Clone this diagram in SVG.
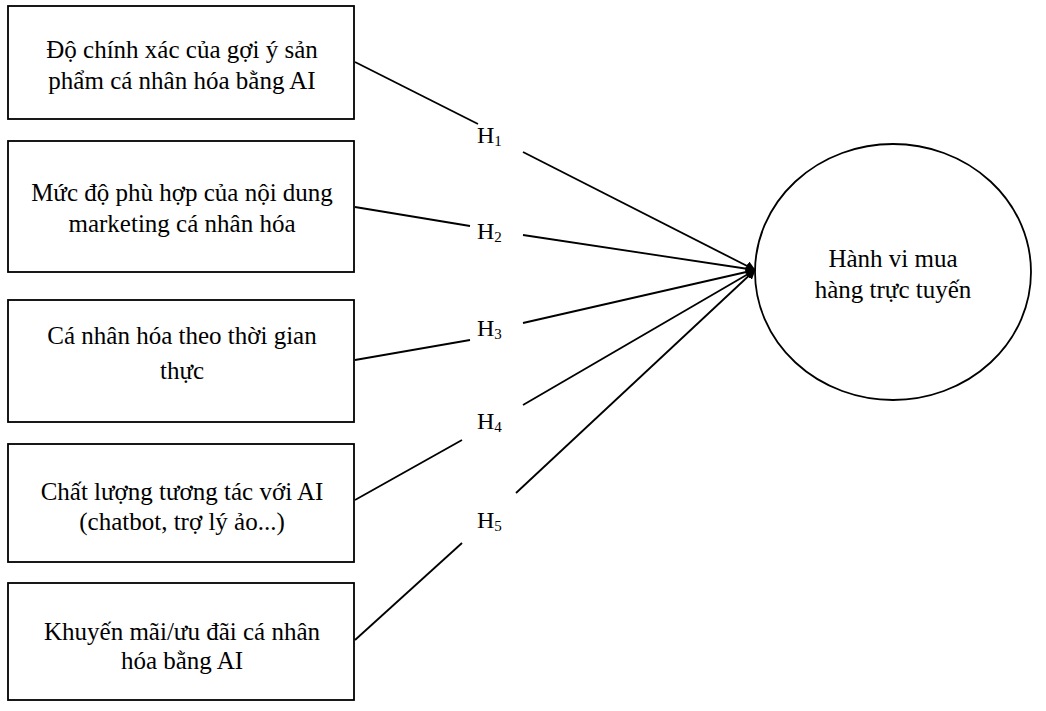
<svg xmlns="http://www.w3.org/2000/svg" width="1046" height="711" viewBox="0 0 1046 711">
<style>
.b{fill:#fff;stroke:#000;stroke-width:1.8}
.t{font-family:"Liberation Serif",serif;font-size:25px;fill:#000;text-anchor:middle}
.h{font-family:"Liberation Serif",serif;font-size:24px;fill:#000}
.s{font-size:15px}
.c{stroke:#000;stroke-width:1.8;fill:none}
</style>
<defs><marker id="a" markerWidth="10" markerHeight="10" refX="9" refY="5" orient="auto" markerUnits="userSpaceOnUse"><path d="M0,0 L10,5 L0,10 z"/></marker></defs>
<rect width="1046" height="711" fill="#fff"/>
<g id="n1"><rect class="b" x="8" y="6" width="346" height="113"/><text class="t" x="182" y="58">Độ chính xác của gợi ý sản</text><text class="t" x="182" y="89">phẩm cá nhân hóa bằng AI</text></g>
<g id="n2"><rect class="b" x="8" y="141" width="346" height="131"/><text class="t" x="182" y="201">Mức độ phù hợp của nội dung</text><text class="t" x="182" y="232">marketing cá nhân hóa</text></g>
<g id="n3"><rect class="b" x="8" y="300" width="346" height="122"/><text class="t" x="182" y="344">Cá nhân hóa theo thời gian</text><text class="t" x="182" y="379">thực</text></g>
<g id="n4"><rect class="b" x="8" y="444" width="346" height="118"/><text class="t" x="182" y="500">Chất lượng tương tác với AI</text><text class="t" x="182" y="530">(chatbot, trợ lý ảo...)</text></g>
<g id="n5"><rect class="b" x="8" y="583" width="346" height="117"/><text class="t" x="182" y="640">Khuyến mãi/ưu đãi cá nhân</text><text class="t" x="182" y="669">hóa bằng AI</text></g>
<g id="n6"><ellipse class="b" cx="893" cy="272" rx="138" ry="128"/><text class="t" x="893" y="267">Hành vi mua</text><text class="t" x="893" y="298">hàng trực tuyến</text></g>
<g id="labels">
<text class="h" x="477" y="143">H<tspan class="s" dy="3">1</tspan></text>
<text class="h" x="477" y="239">H<tspan class="s" dy="3">2</tspan></text>
<text class="h" x="477" y="336">H<tspan class="s" dy="3">3</tspan></text>
<text class="h" x="477" y="429">H<tspan class="s" dy="3">4</tspan></text>
<text class="h" x="477" y="528">H<tspan class="s" dy="3">5</tspan></text>
</g>
<g id="connectors">
<line class="c" x1="355" y1="62" x2="478" y2="124"/><line class="c" x1="523" y1="152" x2="755" y2="270" marker-end="url(#a)"/>
<line class="c" x1="355" y1="207" x2="470" y2="226"/><line class="c" x1="523" y1="235" x2="755" y2="270" marker-end="url(#a)"/>
<line class="c" x1="355" y1="360" x2="470" y2="340"/><line class="c" x1="523" y1="323" x2="755" y2="270" marker-end="url(#a)"/>
<line class="c" x1="355" y1="500" x2="462" y2="440"/><line class="c" x1="523" y1="405" x2="755" y2="270" marker-end="url(#a)"/>
<line class="c" x1="355" y1="640" x2="462" y2="543"/><line class="c" x1="516" y1="493" x2="755" y2="270" marker-end="url(#a)"/>
</g>
</svg>
